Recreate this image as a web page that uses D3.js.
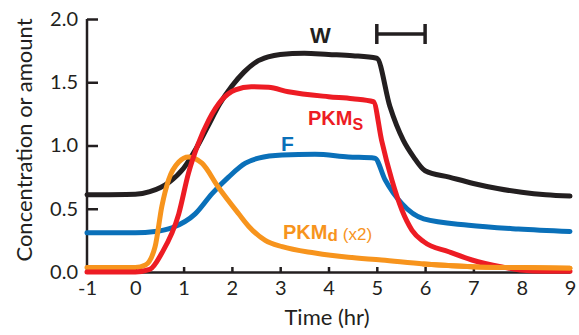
<!DOCTYPE html>
<html>
<head>
<meta charset="utf-8">
<script src="https://cdn.jsdelivr.net/npm/d3@7"></script>
<style>
  body { margin: 0; background: #fff; }
  svg text { font-family: "Lato", "Open Sans", sans-serif; fill: #231f20; }
  .lbl { font-family: "Liberation Sans", Arial, sans-serif; }
</style>
</head>
<body>
<svg id="chart" width="579" height="335"></svg>
<script>
// values (time in hr, amount)
const tW = [-1, 0, 0.3, 0.7, 1.0, 1.25, 1.5, 1.75, 2.0, 2.25, 2.5, 2.75, 3.0, 3.5, 4.0, 4.5, 5.0, 5.27, 5.55, 5.76, 6.0, 6.5, 7.0, 7.5, 8.0, 8.5, 9.0]
const vW = [0.61, 0.615, 0.635, 0.71, 0.82, 0.97, 1.15, 1.33, 1.47, 1.58, 1.66, 1.70, 1.72, 1.73, 1.72, 1.71, 1.69, 1.31, 1.04, 0.91, 0.80, 0.75, 0.70, 0.66, 0.63, 0.61, 0.60]

const tS = [-1, 0, 0.3, 0.55, 0.9, 1.1, 1.3, 1.52, 1.79, 2.07, 2.4, 2.76, 3.17, 4.0, 4.5, 4.93, 5.1, 5.31, 5.52, 5.73, 5.97, 6.49, 6.97, 7.59, 7.97, 8.5, 9.0]
const vS = [0.0, 0.0, 0.02, 0.15, 0.46, 0.78, 1.01, 1.20, 1.36, 1.44, 1.465, 1.46, 1.425, 1.386, 1.37, 1.346, 1.04, 0.73, 0.49, 0.33, 0.24, 0.16, 0.095, 0.04, 0.016, 0.005, 0.005]

const tF = [-1, 0, 0.41, 0.76, 1.24, 1.59, 1.93, 2.28, 2.55, 3.04, 3.72, 4.41, 4.96, 5.17, 5.52, 5.97, 6.9, 7.93, 9.0]
const vF = [0.31, 0.31, 0.32, 0.35, 0.46, 0.62, 0.75, 0.86, 0.90, 0.925, 0.93, 0.91, 0.90, 0.73, 0.54, 0.42, 0.37, 0.34, 0.32]

const tD = [-1, 0, 0.21, 0.41, 0.55, 0.69, 0.9, 1.1, 1.38, 1.72, 2.14, 2.35, 2.69, 3.04, 3.72, 4.41, 5.1, 5.97, 6.97, 8.0, 9.0]
const vD = [0.035, 0.035, 0.055, 0.2, 0.52, 0.73, 0.87, 0.91, 0.86, 0.67, 0.46, 0.36, 0.25, 0.2, 0.15, 0.116, 0.095, 0.063, 0.042, 0.035, 0.03]

const xTicks = [-1, 0, 1, 2, 3, 4, 5, 6, 7, 8, 9]
const yTicks = [0, 0.5, 1.0, 1.5, 2.0]

const black = '#231f20', red = '#ed1c24', blue = '#0a70b9', orange = '#f7941d'

const svg = d3.select('#chart')
const x = d3.scaleLinear().domain([-1, 9]).range([87, 570])
const y = d3.scaleLinear().domain([0, 2]).range([272, 19])

// axes
const xAxis = svg.append('g')
  .attr('transform', 'translate(0,272)')
  .call(d3.axisBottom(x).tickValues(xTicks).tickSizeInner(-5).tickSizeOuter(0).tickPadding(9).tickFormat(d => String(d)))
const yAxis = svg.append('g')
  .attr('transform', 'translate(87,0)')
  .call(d3.axisLeft(y).tickValues(yTicks).tickSizeInner(-11).tickSizeOuter(0).tickPadding(9).tickFormat(d3.format('.1f')))

;[xAxis, yAxis].forEach(g => {
  g.select('.domain').attr('stroke', black).attr('stroke-width', 2.5)
  g.selectAll('.tick line').attr('stroke', black).attr('stroke-width', 2.5)
  g.selectAll('.tick text').attr('font-size', 20).attr('fill', black)
})
yAxis.select('.domain').attr('d', 'M0,19V273')

// data lines
const line = d3.line().curve(d3.curveMonotoneX)
const drawLine = (t, v, color) => {
  svg.append('path')
    .datum(t.map((tt, i) => [x(tt), y(v[i])]))
    .attr('d', line)
    .attr('fill', 'none')
    .attr('stroke', color)
    .attr('stroke-width', 5)
    .attr('stroke-linecap', 'round')
}
drawLine(tW, vW, black)
drawLine(tF, vF, blue)
drawLine(tD, vD, orange)
drawLine(tS, vS, red)
// orange tail sits over the red one at the end
const k = tD.indexOf(5.97)
drawLine(tD.slice(k), vD.slice(k), orange)

// axis titles
svg.append('text')
  .attr('transform', 'translate(32,140) rotate(-90)')
  .attr('text-anchor', 'middle')
  .attr('font-size', 22)
  .text('Concentration or amount')
svg.append('text')
  .attr('x', 327).attr('y', 325)
  .attr('text-anchor', 'middle')
  .attr('font-size', 22)
  .text('Time (hr)')

// series labels
svg.append('text').attr('class', 'lbl').attr('x', 310).attr('y', 43)
  .attr('font-size', 22).attr('font-weight', 'bold').text('W')

const pks = svg.append('text').attr('class', 'lbl').attr('x', 308).attr('y', 125)
  .attr('font-size', 20).attr('font-weight', 'bold')
  .style('fill', red)
pks.append('tspan').text('PKM')
pks.append('tspan').attr('font-size', 16).attr('dy', 5).text('S')

svg.append('text').attr('class', 'lbl').attr('x', 281).attr('y', 151)
  .attr('font-size', 21).attr('font-weight', 'bold')
  .style('fill', blue).text('F')

const pkd = svg.append('text').attr('class', 'lbl').attr('x', 283).attr('y', 239)
  .attr('font-size', 20).attr('font-weight', 'bold')
  .style('fill', orange)
pkd.append('tspan').text('PKM')
pkd.append('tspan').attr('font-size', 17).attr('dy', 2).text('d')
pkd.append('tspan').attr('font-size', 17).attr('font-weight', 'normal').attr('dx', 5).attr('dy', -1).text('(x2)')

// 1 hr scale bar between t = 5 and t = 6
const bar = svg.append('g').attr('stroke', black).attr('stroke-width', 3.5)
bar.append('line').attr('x1', x(5)).attr('x2', x(6)).attr('y1', 34).attr('y2', 34)
bar.append('line').attr('x1', x(5)).attr('x2', x(5)).attr('y1', 24).attr('y2', 44)
bar.append('line').attr('x1', x(6)).attr('x2', x(6)).attr('y1', 24).attr('y2', 44)
</script>
</body>
</html>
